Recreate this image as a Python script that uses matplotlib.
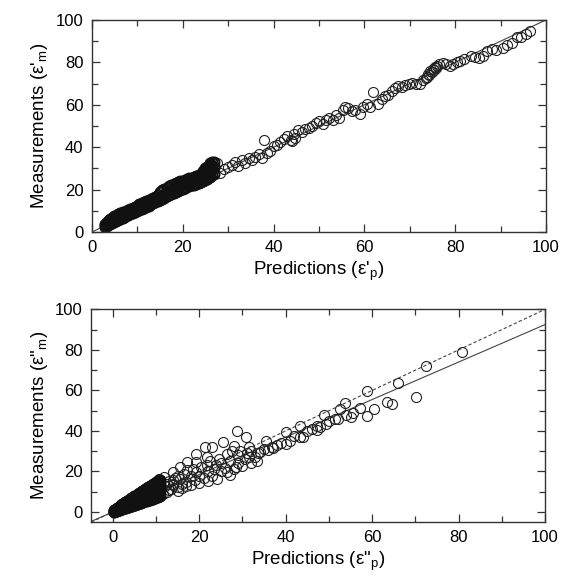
import numpy as np
import matplotlib
matplotlib.use("Agg")
import matplotlib.pyplot as plt
from matplotlib.ticker import MultipleLocator

plt.rcParams['font.family'] = ['Liberation Sans', 'DejaVu Sans']
plt.rcParams['mathtext.fontset'] = 'custom'
plt.rcParams['mathtext.rm'] = 'Liberation Sans'
plt.rcParams['mathtext.it'] = 'Liberation Sans:italic'

# ---- top panel (real part) ----
top_dense_x = [3.0, 3.8, 4.5, 5.0, 5.5, 6.0, 6.5, 7.0, 8.0, 9.0, 10.0, 11.0, 12.0, 13.0, 14.0,
               15.0, 16.0, 17.0, 18.0, 19.0, 20.0, 21.0, 22.0, 23.0, 24.0, 25.0, 25.5, 26.0, 26.8]
top_dense_hi = [3.9, 5.5, 6.8, 7.5, 8.2, 8.5, 8.8, 9.0, 10.2, 11.3, 12.4, 13.5, 14.6, 15.5, 16.6,
                19.0, 20.5, 21.5, 22.5, 23.4, 24.2, 25.0, 25.6, 26.5, 27.5, 30.0, 31.0, 32.5, 33.0]
top_dense_mid = [3.2, 4.5, 5.6, 6.2, 6.6, 7.2, 7.6, 8.2, 9.0, 10.1, 11.2, 12.2, 13.2, 14.3, 15.2,
                 16.5, 18.0, 19.5, 20.6, 21.6, 22.5, 23.2, 24.0, 24.8, 25.6, 27.5, 28.5, 29.5, 30.5]
top_dense_lo = [2.5, 3.6, 4.4, 5.0, 5.5, 6.0, 6.5, 7.1, 8.0, 9.0, 10.1, 11.0, 12.0, 13.0, 14.0,
                15.0, 16.0, 17.5, 18.5, 19.5, 20.5, 21.5, 22.0, 22.8, 23.6, 24.5, 25.5, 26.0, 27.5]
top_dense2_x = [3.4, 4.1, 4.8, 5.3, 5.8, 6.3, 6.8, 7.5, 8.5, 9.5, 10.5, 11.5, 12.5, 13.5, 14.5,
                15.5, 16.5, 17.5, 18.5, 19.5, 20.5, 21.5, 22.5, 23.5, 24.5, 25.3, 25.8, 26.4]
top_dense2_hi = [4.8, 6.0, 7.2, 7.8, 8.4, 8.8, 9.4, 10.0, 11.0, 12.0, 13.0, 14.0, 15.0, 16.2, 17.6,
                 19.6, 21.0, 22.0, 23.0, 24.0, 24.6, 25.3, 26.0, 27.0, 28.8, 30.5, 31.8, 32.8]
top_dense2_mid = [3.8, 5.0, 6.0, 6.5, 7.0, 7.4, 7.9, 8.6, 9.6, 10.6, 11.7, 12.7, 13.7, 14.8, 15.8,
                  17.2, 18.8, 20.0, 21.0, 22.0, 22.8, 23.6, 24.4, 25.2, 26.5, 28.0, 29.0, 30.0]
top_dense2_lo = [3.0, 4.0, 4.7, 5.2, 5.7, 6.2, 6.8, 7.5, 8.5, 9.5, 10.5, 11.5, 12.5, 13.5, 14.5,
                 15.5, 16.8, 18.0, 19.0, 20.0, 21.0, 21.8, 22.4, 23.2, 24.0, 25.0, 25.8, 26.8]
top_fill_x = [4.2, 5.2, 6.2, 7.5, 8.5, 9.5, 10.5, 11.5, 12.5, 13.5, 14.5, 15.5, 16.5, 17.5, 18.5,
              19.5, 20.5, 21.5, 22.5, 23.5, 24.5, 25.2, 26.3]
top_fill_y = [5.0, 6.5, 7.8, 8.6, 9.6, 10.6, 11.7, 12.7, 13.6, 14.7, 15.6, 17.2, 18.8, 20.2, 21.5,
              22.5, 23.6, 24.3, 25.0, 25.8, 27.0, 29.0, 31.5]
top_sparse_x = [27.5, 28.2, 29.0, 30.0, 30.8, 31.5, 32.2, 33.0, 33.8, 34.5, 35.2, 36.0, 36.8, 37.5,
                38.0, 38.5, 39.2, 40.0, 40.8, 41.5, 42.3, 43.0, 43.8, 44.5, 45.5, 46.3, 47.0, 47.8,
                48.5, 49.3, 50.0, 50.8, 51.5, 52.3, 53.0, 53.8, 54.5, 55.2, 55.8, 56.5, 57.2, 58.0,
                59.0, 59.8, 60.5, 61.3, 62.0, 63.0, 63.8, 64.5, 65.3, 66.0, 66.8, 67.5, 68.3, 69.0,
                69.8, 70.5, 71.3, 72.3, 73.0, 73.5, 74.0, 74.5, 75.0, 75.5, 76.0, 76.5, 77.2, 78.0,
                78.8, 79.5, 80.3, 81.0, 82.0, 83.4, 84.3, 85.2, 86.0, 87.0, 88.0, 89.0, 90.5, 91.5,
                92.5, 93.7, 94.5, 95.5, 96.4,
                44.0, 44.8, 73.8, 74.3, 74.8, 75.3, 75.8]
top_sparse_y = [32.5, 28.0, 29.5, 30.5, 31.5, 33.0, 31.0, 34.0, 32.5, 35.0, 33.8, 35.5, 36.8, 35.0,
                43.2, 37.5, 38.0, 40.5, 41.0, 42.5, 44.0, 45.5, 43.5, 46.0, 47.9, 47.0, 48.5, 49.0,
                50.0, 51.5, 52.5, 51.0, 53.0, 54.0, 53.0, 55.0, 53.7, 57.5, 59.0, 58.5, 57.0, 57.5,
                55.7, 59.0, 60.5, 59.0, 66.0, 60.4, 62.5, 64.0, 64.8, 66.5, 68.0, 69.0, 68.5, 69.5,
                70.0, 70.2, 70.0, 69.9, 71.5, 72.5, 74.6, 76.0, 77.0, 78.0, 78.5, 79.0, 79.5, 79.0,
                78.5, 79.0, 80.0, 80.5, 81.5, 83.0, 82.5, 82.2, 83.0, 85.5, 86.5, 86.0, 87.0, 88.0,
                89.0, 91.8, 92.0, 93.5, 95.0,
                43.0, 44.5, 73.0, 74.0, 75.5, 76.5, 77.5]

# ---- bottom panel (imaginary part) ----
bot_dense_x = [0.3, 0.8, 1.2, 1.6, 2.0, 2.5, 3.0, 3.5, 4.0, 4.5, 5.0, 5.5, 6.0, 6.5, 7.0, 7.5,
               8.0, 8.5, 9.0, 9.5, 10.0, 10.5, 11.0]
bot_dense_hi = [0.8, 1.5, 2.2, 3.0, 3.6, 4.3, 5.0, 5.6, 6.4, 7.0, 7.8, 8.4, 9.2, 9.8, 10.6, 11.2,
                12.0, 12.6, 13.4, 14.0, 15.0, 15.4, 16.0]
bot_dense_uq = [0.6, 1.2, 1.8, 2.5, 3.0, 3.6, 4.3, 4.9, 5.5, 6.1, 6.8, 7.4, 8.1, 8.6, 9.3, 9.9,
                10.6, 11.2, 11.9, 12.5, 13.2, 13.8, 14.4]
bot_dense_mid = [0.4, 1.0, 1.5, 2.0, 2.5, 3.0, 3.6, 4.2, 4.7, 5.2, 5.8, 6.4, 7.0, 7.5, 8.0, 8.7,
                 9.3, 9.8, 10.4, 11.0, 11.5, 12.2, 12.8]
bot_dense_lq = [0.2, 0.7, 1.1, 1.5, 1.9, 2.4, 2.9, 3.3, 3.7, 4.2, 4.6, 5.1, 5.6, 6.0, 6.5, 7.0,
                7.5, 7.9, 8.4, 8.9, 9.3, 9.9, 10.4]
bot_dense_lo = [0.1, 0.5, 0.8, 1.1, 1.4, 1.8, 2.2, 2.5, 2.8, 3.2, 3.5, 3.9, 4.3, 4.6, 5.0, 5.3,
                5.7, 6.0, 6.4, 6.8, 7.2, 7.6, 8.0]
bot_dense2_x = [0.6, 1.0, 1.4, 1.8, 2.2, 2.8, 3.2, 3.8, 4.2, 4.8, 5.2, 5.8, 6.2, 6.8, 7.2, 7.8,
                8.2, 8.8, 9.2, 9.8, 10.2, 10.8]
bot_dense2_hi = [1.2, 1.8, 2.6, 3.3, 4.0, 4.7, 5.3, 6.0, 6.7, 7.4, 8.1, 8.9, 9.5, 10.2, 10.9, 11.6,
                 12.3, 13.0, 13.7, 14.5, 15.0, 15.8]
bot_dense2_mid = [0.7, 1.2, 1.7, 2.2, 2.7, 3.3, 3.9, 4.4, 5.0, 5.5, 6.1, 6.7, 7.2, 7.8, 8.3, 8.9,
                  9.5, 10.1, 10.7, 11.2, 11.8, 12.5]
bot_dense2_lo = [0.3, 0.6, 1.0, 1.3, 1.6, 2.0, 2.4, 2.7, 3.0, 3.4, 3.7, 4.1, 4.5, 4.8, 5.2, 5.5,
                 5.9, 6.2, 6.6, 7.0, 7.4, 7.8]
bot_sparse_x = [80.9, 72.4, 65.9, 70.2, 58.8, 64.5, 63.4, 60.5, 58.8, 57.2, 55.1, 55.6, 53.8, 52.6,
                51.3, 48.8, 49.3, 47.2, 47.2, 43.4, 43.4, 40.1, 40.1, 36.8, 35.5, 33.7, 33.4, 30.9,
                28.7, 31.4, 31.4, 28.9, 28.5, 28.0, 25.5, 26.4, 26.4, 23.9, 23.0, 21.4, 21.8, 21.8,
                19.3, 19.3, 19.3, 17.2, 17.2, 15.6, 15.6, 13.9, 13.9, 11.8, 9.7, 10.6, 0.2,
                12.5, 13.0, 14.0, 15.0, 15.0, 16.0, 16.5, 17.0, 18.0, 18.0, 18.5, 19.0, 20.0, 20.0,
                20.5, 21.0, 22.0, 22.0, 22.5, 23.0, 23.5, 24.0, 24.5, 25.0, 25.0, 26.0, 27.0, 27.0,
                27.5, 28.0, 29.0, 29.5, 30.0, 30.5, 31.0, 32.0, 32.0, 33.0, 34.0, 35.0, 36.0, 37.0,
                38.0, 39.0, 41.0, 42.0, 44.0, 45.0, 46.0, 48.0, 50.0, 52.0, 54.0,
                11.5, 12.0, 12.5, 13.0, 13.5, 14.0, 14.5, 15.0, 16.0, 17.0]
bot_sparse_y = [79.0, 72.1, 63.9, 56.9, 59.8, 53.3, 54.1, 50.8, 47.5, 51.3, 46.7, 48.7, 53.6, 50.8,
                45.9, 48.0, 43.4, 42.6, 40.5, 42.6, 36.9, 39.3, 33.6, 32.0, 35.2, 29.0, 25.4, 36.9,
                40.2, 32.0, 27.0, 27.9, 22.1, 32.8, 34.4, 28.7, 19.7, 23.0, 32.0, 32.0, 27.0, 23.0,
                28.7, 24.6, 19.7, 24.6, 20.5, 22.1, 16.4, 19.7, 13.9, 17.2, 10.7, 16.4, 0.8,
                14.0, 11.0, 16.0, 12.5, 18.0, 14.0, 19.0, 15.0, 13.5, 18.0, 21.0, 16.0, 14.5, 18.0,
                22.0, 17.0, 15.5, 20.0, 25.0, 18.0, 21.0, 16.5, 26.0, 20.0, 24.0, 21.5, 18.5, 25.0,
                30.0, 21.0, 24.0, 30.0, 22.5, 26.0, 29.0, 24.0, 30.0, 27.0, 29.5, 31.0, 30.5, 31.5,
                33.0, 34.0, 35.0, 37.5, 37.0, 40.0, 41.0, 42.0, 45.0, 46.0, 48.0,
                9.0, 13.0, 10.0, 15.5, 11.5, 13.5, 17.0, 10.5, 12.0, 13.0]

fit_slope = 0.925  # solid fitted line in the lower panel

fig = plt.figure(figsize=(5.63, 5.86), dpi=100)
ax1 = fig.add_axes([0.163, 0.604, 0.807, 0.362])
ax2 = fig.add_axes([0.162, 0.109, 0.806, 0.363])

mk = dict(marker='o', linestyle='none', markersize=7.2, markerfacecolor='none',
          markeredgecolor='#222222', markeredgewidth=0.8)
mk_dense = dict(mk, markeredgecolor='#111111', markeredgewidth=1.4)

# top
ax1.plot([0, 100], [0, 100], color='#444444', lw=0.8)
ax1.plot(top_sparse_x, top_sparse_y, **mk)
for ys in (top_dense_lo, top_dense_mid, top_dense_hi):
    ax1.plot(top_dense_x, ys, **mk_dense)
for ys in (top_dense2_lo, top_dense2_mid, top_dense2_hi):
    ax1.plot(top_dense2_x, ys, **mk_dense)
ax1.plot(top_fill_x, top_fill_y, **mk_dense)
ax1.set_xlim(0, 100)
ax1.set_ylim(0, 100)
ax1.set_xlabel("Predictions (ε'$_\\mathrm{p}$)", fontsize=13.5, labelpad=3)
ax1.set_ylabel("Measurements (ε'$_\\mathrm{m}$)", fontsize=13.5, labelpad=4)

# bottom
line_x = np.array([-5, 100])
ax2.plot(line_x, line_x, color='#444444', lw=0.8, ls=(0, (3, 2)))
ax2.plot(line_x, fit_slope * line_x, color='#444444', lw=0.8)
ax2.plot(bot_sparse_x, bot_sparse_y, **mk)
for ys in (bot_dense_lo, bot_dense_lq, bot_dense_mid, bot_dense_uq, bot_dense_hi):
    ax2.plot(bot_dense_x, ys, **mk_dense)
for ys in (bot_dense2_lo, bot_dense2_mid, bot_dense2_hi):
    ax2.plot(bot_dense2_x, ys, **mk_dense)
ax2.set_xlim(-5, 100)
ax2.set_ylim(-5, 100)
ax2.set_xlabel('Predictions (ε"$_\\mathrm{p}$)', fontsize=13.5, labelpad=3)
ax2.set_ylabel('Measurements (ε"$_\\mathrm{m}$)', fontsize=13.5, labelpad=4)

for ax in (ax1, ax2):
    ax.xaxis.set_major_locator(MultipleLocator(20))
    ax.yaxis.set_major_locator(MultipleLocator(20))
    ax.xaxis.set_minor_locator(MultipleLocator(10))
    ax.yaxis.set_minor_locator(MultipleLocator(10))
    ax.tick_params(which='both', direction='in', top=True, right=True,
                   color='#333333', labelsize=12, pad=6)
    ax.tick_params(which='major', length=6, width=0.9)
    ax.tick_params(which='minor', length=4, width=0.9)
    for s in ax.spines.values():
        s.set_color('#333333')
        s.set_linewidth(1.0)

fig.savefig('out.png', dpi=100)
